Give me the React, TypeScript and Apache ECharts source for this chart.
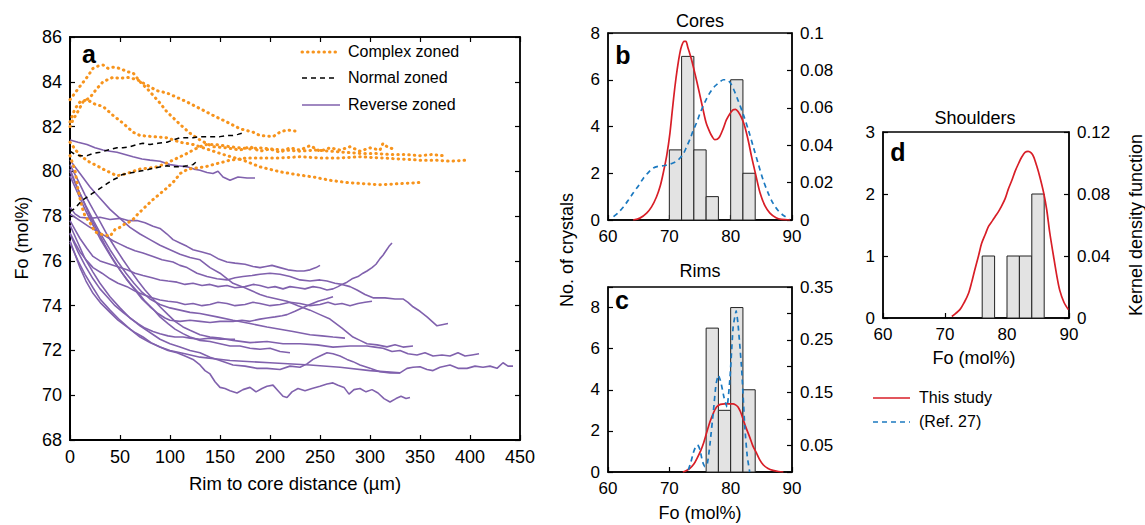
import React, { useEffect, useRef } from 'react';
import * as echarts from 'echarts';

const FONT = '"Liberation Sans", Arial, Helvetica, sans-serif';
const ORANGE = '#f7941d';
const PURPLE = '#8061ad';
const RED = '#d81e27';
const BLUE = '#1b79c0';

// ---------- Panel a : Fo profiles (distance µm, Fo mol%) ----------
const distMin = 0, distMax = 450, distStep = 50;
const foMin = 68, foMax = 86, foStep = 2;

const complex1 = [[0,83.2],[5,83.5],[10,83.8],[17,84.2],[23,84.6],[28,84.7],[33,84.75],[38,84.6],[43,84.65],[50,84.6],[57,84.45],[63,84.4],[70,84.0],[77,83.7],[83,83.4],[90,83.05],[97,82.65],[103,82.4],[110,82.1],[120,81.7],[130,81.4],[143,81.1],[157,81.05],[170,80.95],[180,81.1],[190,80.9],[200,81.0],[210,80.85],[220,81.05],[230,80.95],[240,81.15],[250,80.9],[260,81.05],[270,80.95],[280,81.1],[290,80.9],[300,81.05],[310,80.95],[313,81.25],[317,81.1],[323,81.0]];
const complex2 = [[0,82.0],[3,82.3],[7,82.6],[13,83.1],[20,83.3],[27,83.7],[33,84.0],[43,84.2],[50,84.15],[57,84.2],[67,84.1],[77,83.85],[87,83.6],[97,83.5],[107,83.3],[117,83.1],[130,82.8],[143,82.5],[157,82.2],[170,81.9],[183,81.75],[190,81.6],[203,81.55],[210,81.75],[217,81.85],[225,81.8]];
const complex3 = [[0,82.2],[5,82.8],[10,83.1],[17,83.2],[25,83.0],[33,82.9],[43,82.5],[53,82.15],[63,81.75],[70,81.6],[83,81.55],[97,81.5],[110,81.3],[123,81.2],[140,80.95],[157,80.7],[173,80.5],[190,80.2],[210,79.98],[227,79.85],[243,79.75],[260,79.6],[277,79.5],[293,79.45],[310,79.4],[330,79.45],[350,79.5]];
const complex4 = [[0,81.3],[5,81.0],[10,80.7],[15,80.55],[20,80.4],[27,80.25],[33,80.1],[40,79.95],[47,79.8],[52,79.85],[57,79.9],[63,80.0],[70,80.1],[80,80.15],[87,80.2],[93,80.3],[98,80.4],[103,80.5],[110,80.65],[117,80.8],[123,80.95],[130,81.1],[137,81.2],[145,81.2],[153,81.15],[160,81.1],[170,81.05],[180,81.0],[190,81.05],[200,81.0],[215,80.95],[230,80.9],[245,80.95],[260,80.9],[275,80.85],[290,80.8],[305,80.8],[320,80.75],[335,80.75],[350,80.7],[362,80.75],[373,80.7]];
const complex5 = [[0,80.7],[3,80.3],[5,80.05],[8,79.2],[12,78.4],[15,78.0],[20,77.7],[25,77.3],[30,77.2],[36,77.15],[40,77.1],[45,77.4],[50,77.5],[55,77.65],[62,77.8],[68,78.1],[75,78.4],[82,78.7],[90,79.0],[98,79.3],[105,79.6],[110,79.9],[118,80.1],[126,80.15],[135,80.2],[143,80.3],[152,80.4],[160,80.5],[170,80.55],[177,80.6],[190,80.6],[210,80.6],[230,80.65],[250,80.6],[270,80.6],[290,80.65],[310,80.6],[330,80.55],[350,80.5],[365,80.5],[380,80.45],[397,80.5]];

const normal1 = [[0,80.9],[5,80.75],[10,80.7],[17,80.7],[23,80.8],[30,80.85],[38,80.95],[47,81.05],[53,81.05],[60,81.1],[67,81.2],[73,81.25],[80,81.2],[88,81.25],[97,81.3],[103,81.4],[110,81.5],[117,81.5],[123,81.5],[130,81.55],[137,81.55],[143,81.55],[150,81.55],[157,81.6],[163,81.6],[168,81.65],[175,81.75]];
const normal2 = [[0,78.2],[5,78.35],[12,78.7],[17,78.85],[22,79.0],[27,79.15],[32,79.3],[37,79.45],[42,79.6],[47,79.7],[52,79.85],[57,79.9],[63,79.95],[69,80.0],[75,80.05],[80,80.1],[85,80.15],[91,80.2],[97,80.25],[103,80.2],[110,80.2],[117,80.25],[123,80.3],[127,80.45]];

const reverse1 = [[0,81.4],[8,81.3],[17,81.2],[25,81.05],[33,80.95],[40,80.9],[47,80.85],[55,80.75],[63,80.65],[72,80.55],[80,80.5],[90,80.45],[100,80.3],[108,80.25],[117,80.2],[124,80.1],[130,80.05],[137,79.95],[143,79.9],[148,80.0],[153,79.75],[160,79.6],[168,79.75],[177,79.7],[185,79.7]];
const reverse2 = [[0,78.4],[5,78.1],[10,77.95],[20,77.9],[30,77.95],[40,77.85],[50,77.9],[58,77.8],[67,77.8],[75,77.7],[83,77.55],[90,77.45],[97,77.2],[103,76.95],[110,76.8],[117,76.65],[123,76.5],[132,76.4],[140,76.3],[148,76.1],[157,75.95],[165,75.9],[175,75.85],[183,75.75],[190,75.7],[196,75.75],[202,75.8],[210,75.7],[218,75.6],[227,75.55],[234,75.55],[240,75.6],[246,75.7],[250,75.8]];
const reverse3 = [[0,78.1],[5,77.95],[10,77.8],[20,77.5],[30,77.25],[43,76.9],[50,76.75],[57,76.6],[65,76.45],[73,76.35],[83,76.2],[92,76.05],[103,75.95],[110,75.8],[117,75.7],[127,75.45],[137,75.3],[147,75.2],[157,75.15],[165,75.25],[173,75.3],[182,75.35],[190,75.4],[200,75.45],[210,75.4],[220,75.3],[230,75.15],[240,75.1],[250,75.15],[257,75.1],[265,75.0],[272,74.95],[280,74.85],[287,74.7],[295,74.5],[303,74.35],[315,74.35],[325,74.3],[333,74.3],[338,74.15],[343,73.95],[350,73.75],[357,73.5],[362,73.3],[367,73.1],[372,73.15],[378,73.2]];
const reverse4 = [[0,77.8],[5,77.4],[10,77.0],[17,76.55],[23,76.2],[30,76.0],[40,75.85],[50,75.7],[57,75.6],[65,75.45],[73,75.35],[82,75.25],[90,75.15],[98,75.1],[107,75.05],[115,74.95],[123,75.0],[132,74.9],[140,74.95],[148,74.85],[157,74.9],[165,74.8],[175,74.85],[183,74.95],[190,74.9],[198,74.8],[205,74.85],[213,74.75],[220,74.85],[228,74.8],[235,74.75],[243,74.85],[250,74.8],[257,74.7],[263,74.75],[268,74.85],[272,74.95],[277,75.05],[282,75.2],[288,75.3],[293,75.45],[297,75.55],[302,75.7],[306,75.85],[310,76.1],[313,76.25],[316,76.45],[319,76.65],[322,76.8]];
const reverse5 = [[0,77.25],[5,76.8],[10,76.4],[17,76.0],[23,75.7],[32,75.45],[40,75.2],[48,75.0],[57,74.85],[65,74.65],[73,74.5],[82,74.35],[90,74.25],[98,74.2],[107,74.15],[115,74.05],[123,74.1],[132,74.0],[140,74.05],[148,74.15],[157,74.1],[165,74.0],[175,74.05],[183,74.15],[190,74.1],[200,74.0],[210,74.05],[220,74.15],[230,74.1],[240,74.0],[250,74.05],[258,74.15],[265,74.05],[272,74.1],[280,74.0],[288,74.1],[295,74.15],[302,74.2]];
const reverse6 = [[0,80.5],[10,79.9],[20,79.3],[30,78.8],[40,78.3],[50,77.9],[60,77.5],[70,77.2],[80,76.95],[90,76.7],[100,76.5],[110,76.3],[120,76.15],[130,76.05],[140,75.7],[150,75.45],[163,75.0],[172,74.85],[180,74.7],[190,74.5],[197,74.4],[207,74.3],[217,74.2],[228,74.0],[240,73.8],[250,73.6],[260,73.4],[272,73.0],[283,72.6],[290,72.45],[297,72.3],[307,72.25],[317,72.16],[325,72.25],[333,72.15],[343,72.2]];
const reverse7 = [[0,80.3],[8,79.6],[15,78.95],[23,78.3],[30,77.75],[38,77.1],[45,76.6],[53,76.05],[60,75.6],[68,75.1],[75,74.7],[83,74.3],[90,73.95],[98,73.6],[105,73.3],[113,73.05],[120,72.9],[130,72.7],[140,72.6],[150,72.55],[163,72.45],[180,72.35],[197,72.4],[213,72.3],[230,72.3],[247,72.25],[263,72.15],[280,72.2],[297,72.2],[305,72.15],[313,72.1],[322,71.95],[330,72.0],[338,71.85],[347,71.8],[355,71.9],[363,71.75],[372,71.8],[380,71.75],[388,71.9],[395,71.75],[402,71.8],[409,71.85]];
const reverse8 = [[0,77.6],[8,76.8],[15,76.1],[23,75.5],[30,75.0],[40,74.4],[50,73.9],[60,73.45],[70,73.1],[80,72.8],[90,72.5],[100,72.3],[110,72.15],[120,72.0],[130,71.9],[140,71.7],[150,71.55],[163,71.35],[175,71.3],[187,71.2],[197,71.2],[210,71.15],[220,71.3],[230,71.25],[237,71.4],[243,71.6],[250,71.75],[257,71.9],[263,71.85],[270,71.75],[277,71.6],[283,71.5],[290,71.35],[300,71.2],[310,71.05],[320,71.0],[330,71.0],[337,71.2],[343,71.25],[350,71.27],[357,71.15],[363,71.1],[370,71.25],[380,71.35],[388,71.2],[397,71.2],[405,71.3],[413,71.25],[420,71.3],[427,71.2],[433,71.45],[438,71.3],[443,71.3]];
const reverse9 = [[0,76.9],[5,76.3],[10,75.7],[16,75.1],[23,74.55],[31,74.1],[40,73.7],[48,73.35],[57,73.05],[65,72.8],[73,72.6],[81,72.35],[90,72.15],[98,72.0],[107,71.9],[115,71.75],[123,71.6],[130,71.35],[135,71.1],[140,70.95],[145,70.6],[150,70.35],[155,70.3],[160,70.2],[167,70.1],[173,70.25],[180,70.35],[186,70.15],[192,70.3],[197,70.4],[203,70.45],[208,70.2],[213,69.95],[217,69.9],[222,70.15],[228,70.3],[235,70.2],[242,70.3],[250,70.4],[257,70.5],[263,70.55],[268,70.45],[274,70.35],[279,70.05],[284,70.25],[290,70.3],[296,70.15],[302,70.25],[308,70.1],[314,69.85],[320,69.7],[326,69.85],[331,69.95],[336,69.85],[340,69.9]];
const reverse10 = [[0,79.8],[8,79.0],[15,78.3],[23,77.6],[30,77.0],[38,76.4],[45,75.9],[53,75.4],[60,75.0],[68,74.6],[75,74.2],[83,73.85],[90,73.5],[98,73.2],[105,72.95],[113,72.75],[120,72.6],[130,72.45],[140,72.4],[150,72.3],[160,72.2],[170,72.2],[180,72.1],[190,72.05],[200,72.1],[210,71.95],[220,71.9]];
const reverse11 = [[0,77.2],[8,76.4],[15,75.8],[23,75.2],[30,74.75],[38,74.35],[45,74.0],[53,73.7],[60,73.45],[68,73.2],[75,73.0],[83,72.85],[90,72.75],[98,72.65],[105,72.6],[113,72.6],[120,72.55],[130,72.5],[140,72.55],[150,72.5],[158,72.5],[165,72.5]];
const reverse12 = [[0,76.8],[8,76.0],[15,75.4],[23,74.8],[30,74.3],[40,73.8],[50,73.35],[60,72.95],[70,72.6],[80,72.35],[90,72.15],[100,72.0],[115,71.85],[130,71.7],[160,71.55],[200,71.45],[240,71.35],[270,71.25],[300,71.1],[330,71.0]];
const reverse13 = [[0,80.1],[7,79.3],[14,78.6],[21,77.9],[28,77.3],[35,76.7],[42,76.15],[50,75.6],[57,75.15],[65,74.7],[72,74.3],[80,73.95],[88,73.65],[95,73.45],[100,73.35],[110,73.3],[120,73.35],[130,73.3],[140,73.25],[150,73.3],[163,73.3],[172,73.35],[180,73.3],[190,73.4],[197,73.45],[205,73.5],[212,73.55],[217,73.6],[225,73.75],[232,73.9],[240,74.05],[248,74.2],[256,74.3],[263,74.4]];
const reverse14 = [[0,80.0],[8,79.2],[16,78.45],[24,77.75],[32,77.1],[40,76.5],[48,75.95],[56,75.45],[64,75.0],[72,74.6],[80,74.3],[90,74.05],[100,73.9],[110,73.8],[120,73.7],[130,73.65],[147,73.5],[163,73.35],[180,73.2],[197,73.05],[210,72.95],[223,72.85],[240,72.7],[252,72.65],[263,72.6],[275,72.55]];

const complexZoned = [complex1, complex2, complex3, complex4, complex5];
const normalZoned = [normal1, normal2];
const reverseZoned = [reverse1, reverse2, reverse3, reverse4, reverse5, reverse6, reverse7, reverse8, reverse9, reverse10, reverse11, reverse12, reverse13, reverse14];

// ---------- Histograms (Fo mol%, bins of 2) ----------
const foHistMin = 60, foHistMax = 90, foHistStep = 10;
const BIN_WIDTH = 2;
const coreBinStarts = [70, 72, 74, 76, 80, 82];
const coreCounts = [3, 7, 3, 1, 6, 2];
const rimBinStarts = [76, 78, 80, 82];
const rimCounts = [7, 3, 8, 4];
const shoulderBinStarts = [76, 80, 82, 84];
const shoulderCounts = [1, 1, 1, 2];

// Kernel density curves [Fo, density]
const coresThisStudy = [[64.1,0],[65.2,0.001],[66.3,0.0037],[67.1,0.007],[67.9,0.0123],[68.5,0.018],[69.0,0.025],[69.6,0.035],[70.1,0.0465],[70.5,0.059],[70.9,0.071],[71.3,0.081],[71.7,0.089],[72.0,0.093],[72.4,0.0955],[72.7,0.0955],[73.0,0.0925],[73.6,0.086],[74.2,0.078],[74.9,0.068],[75.5,0.059],[76.0,0.052],[76.6,0.047],[77.0,0.0445],[77.4,0.043],[77.8,0.0432],[78.2,0.0445],[78.8,0.049],[79.3,0.0535],[79.9,0.057],[80.4,0.059],[80.8,0.0592],[81.2,0.058],[81.8,0.0545],[82.3,0.05],[82.9,0.042],[83.4,0.034],[84.1,0.024],[84.8,0.0144],[85.6,0.0075],[86.4,0.0037],[87.4,0.0012],[88.3,0.0003],[89.7,0]];
const coresRef27 = [[60.9,0.0018],[61.7,0.004],[62.5,0.007],[63.3,0.0105],[64.1,0.0144],[65.0,0.0185],[65.8,0.0225],[66.6,0.0255],[67.4,0.0278],[68.2,0.0287],[69.0,0.029],[69.8,0.0296],[70.6,0.0305],[71.2,0.0315],[71.7,0.033],[72.3,0.0355],[72.8,0.039],[73.4,0.0435],[73.9,0.048],[74.5,0.0525],[75.0,0.057],[75.8,0.063],[76.6,0.068],[77.4,0.0715],[78.3,0.074],[78.8,0.075],[79.3,0.075],[79.9,0.0735],[80.4,0.0705],[81.2,0.064],[82.0,0.057],[82.9,0.048],[83.7,0.039],[84.5,0.03],[85.3,0.0214],[86.1,0.0145],[86.9,0.009],[87.7,0.0052],[88.5,0.0027],[89.6,0.0005]];
const rimsThisStudy = [[72.2,0],[72.8,0.003],[73.4,0.0075],[74.0,0.015],[74.5,0.0255],[75.1,0.04],[75.6,0.0555],[76.1,0.075],[76.6,0.094],[77.2,0.112],[77.7,0.123],[78.3,0.128],[79.0,0.129],[79.7,0.129],[80.4,0.129],[80.8,0.127],[81.2,0.123],[81.6,0.114],[82.0,0.101],[82.5,0.084],[83.1,0.066],[83.6,0.05],[84.2,0.036],[84.7,0.024],[85.3,0.0137],[86.1,0.0065],[86.9,0.003],[87.8,0.001],[88.6,0]];
const rimsRef27 = [[73.1,0.004],[73.5,0.018],[73.9,0.036],[74.3,0.048],[74.6,0.051],[75.0,0.042],[75.4,0.02],[75.8,0.01],[76.2,0.016],[76.6,0.05],[77.2,0.117],[77.6,0.165],[78.0,0.183],[78.4,0.17],[78.9,0.142],[79.4,0.123],[79.9,0.18],[80.4,0.274],[80.9,0.305],[81.2,0.28],[81.8,0.193],[82.3,0.086],[82.7,0.03],[83.1,0]];
const shouldersThisStudy = [[71.1,0.001],[72.4,0.0054],[73.1,0.01],[73.8,0.016],[74.3,0.023],[74.8,0.031],[75.4,0.04],[75.9,0.048],[76.5,0.054],[77.0,0.059],[77.6,0.0625],[78.1,0.0655],[78.6,0.0685],[79.1,0.072],[79.7,0.077],[80.2,0.083],[80.8,0.089],[81.3,0.0946],[81.9,0.1],[82.4,0.104],[82.9,0.1068],[83.4,0.1075],[83.9,0.1065],[84.3,0.104],[84.8,0.098],[85.3,0.091],[85.9,0.081],[86.4,0.07],[86.9,0.055],[87.5,0.04],[88.0,0.028],[88.5,0.018],[89.2,0.01],[89.9,0.0054]];

function tickLabel(size: number, extra: any = {}) {
  return { color: '#000', fontSize: size, fontFamily: FONT, margin: 8, ...extra };
}
function valAxis(o: any) {
  return {
    type: 'value',
    splitLine: { show: false },
    axisLine: { show: true, onZero: false, lineStyle: { color: '#000', width: 1.5 } },
    axisTick: { show: true, inside: true, length: 5, lineStyle: { color: '#000', width: 1.2 } },
    axisLabel: tickLabel(17),
    ...o,
  };
}
const fmt2 = (v: number) => String(parseFloat(v.toFixed(2)));

function histSeries(starts: number[], counts: number[], xi: number, yi: number) {
  return {
    type: 'custom',
    xAxisIndex: xi,
    yAxisIndex: yi,
    silent: true,
    z: 1,
    data: starts.map((s, i) => [s, s + BIN_WIDTH, counts[i]]),
    encode: { x: [0, 1], y: 2 },
    renderItem: (_p: any, api: any) => {
      const p0 = api.coord([api.value(0), 0]);
      const p1 = api.coord([api.value(1), api.value(2)]);
      return {
        type: 'rect',
        shape: { x: p0[0], y: p1[1], width: p1[0] - p0[0], height: p0[1] - p1[1] },
        style: { fill: '#e3e3e3', stroke: '#222', lineWidth: 1 },
      };
    },
  };
}
function kdeSeries(data: number[][], xi: number, yi: number, color: string, dashed: boolean, smooth = 0.3) {
  return {
    type: 'line', xAxisIndex: xi, yAxisIndex: yi, data, showSymbol: false, symbol: 'none',
    smooth, silent: true, z: dashed ? 4 : 3,
    lineStyle: { color, width: 1.7, type: dashed ? [5, 4] : 'solid' },
  };
}
function profileSeries(data: number[][], kind: string) {
  const ls: any =
    kind === 'complex' ? { color: ORANGE, width: 3, type: [0.5, 5], cap: 'round' }
    : kind === 'normal' ? { color: '#000', width: 1.5, type: [5, 4] }
    : { color: PURPLE, width: 1.6 };
  return {
    type: 'line', xAxisIndex: 0, yAxisIndex: 0, data, showSymbol: false, symbol: 'none',
    silent: true, z: kind === 'reverse' ? 2 : kind === 'complex' ? 3 : 4, lineStyle: ls,
  };
}

function txt(text: string, x: number, y: number, size: number, extra: any = {}, rot = 0) {
  return {
    type: 'text', x, y, rotation: rot, z: 100,
    style: {
      text, fill: '#000', fontSize: size, fontFamily: FONT,
      align: 'center', verticalAlign: 'middle', textAlign: 'center', textVerticalAlign: 'middle',
      ...extra,
    },
  };
}
function seg(x1: number, y1: number, x2: number, y2: number, style: any) {
  return { type: 'line', z: 100, shape: { x1, y1, x2, y2 }, style };
}

export default function App() {
  const ref = useRef<HTMLDivElement>(null);
  useEffect(() => {
    const chart = echarts.init(ref.current as HTMLDivElement, null, { renderer: 'svg' });
    const gridBase = { show: true, borderColor: '#000', borderWidth: 1.3, backgroundColor: 'transparent' };
    const option: any = {
      animation: false,
      grid: [
        { ...gridBase, left: 70, top: 37, width: 450, height: 403 },
        { ...gridBase, left: 608, top: 33, width: 184, height: 187 },
        { ...gridBase, left: 608, top: 287, width: 184, height: 185 },
        { ...gridBase, left: 883, top: 132, width: 186, height: 186 },
      ],
      xAxis: [
        valAxis({ gridIndex: 0, min: distMin, max: distMax, interval: distStep, axisLabel: tickLabel(18), axisLine: { show: true, onZero: false, lineStyle: { color: '#000', width: 2 } } }),
        valAxis({ gridIndex: 0, position: 'top', min: distMin, max: distMax, interval: distStep, axisLabel: { show: false } }),
        valAxis({ gridIndex: 1, min: foHistMin, max: foHistMax, interval: foHistStep }),
        valAxis({ gridIndex: 2, min: foHistMin, max: foHistMax, interval: foHistStep }),
        valAxis({ gridIndex: 3, min: foHistMin, max: foHistMax, interval: foHistStep }),
      ],
      yAxis: [
        valAxis({ gridIndex: 0, min: foMin, max: foMax, interval: foStep, axisLabel: tickLabel(18), axisLine: { show: true, onZero: false, lineStyle: { color: '#000', width: 2 } } }),
        valAxis({ gridIndex: 0, position: 'right', min: foMin, max: foMax, interval: foStep, axisLabel: { show: false } }),
        valAxis({ gridIndex: 1, min: 0, max: 8, interval: 2 }),
        valAxis({ gridIndex: 1, position: 'right', min: 0, max: 0.1, interval: 0.02, axisLabel: tickLabel(17, { formatter: fmt2 }) }),
        valAxis({ gridIndex: 2, min: 0, max: 9, interval: 2, axisLabel: tickLabel(17, { formatter: (v: number) => (v > 8.5 ? '' : String(v)) }) }),
        valAxis({ gridIndex: 2, position: 'right', min: 0, max: 0.35, interval: 0.05, axisLabel: tickLabel(17, { formatter: (v: number) => (Math.round(v * 100) % 10 === 5 ? v.toFixed(2) : '') }) }),
        valAxis({ gridIndex: 3, min: 0, max: 3, interval: 1 }),
        valAxis({ gridIndex: 3, position: 'right', min: 0, max: 0.12, interval: 0.04, axisLabel: tickLabel(17, { formatter: fmt2 }) }),
      ],
      series: [
        ...reverseZoned.map((d) => profileSeries(d, 'reverse')),
        ...complexZoned.map((d) => profileSeries(d, 'complex')),
        ...normalZoned.map((d) => profileSeries(d, 'normal')),
        histSeries(coreBinStarts, coreCounts, 2, 2),
        kdeSeries(coresThisStudy, 2, 3, RED, false),
        kdeSeries(coresRef27, 2, 3, BLUE, true),
        histSeries(rimBinStarts, rimCounts, 3, 4),
        kdeSeries(rimsThisStudy, 3, 5, RED, false),
        kdeSeries(rimsRef27, 3, 5, BLUE, true, 0.15),
        histSeries(shoulderBinStarts, shoulderCounts, 4, 6),
        kdeSeries(shouldersThisStudy, 4, 7, RED, false),
      ],
      graphic: [
        txt('Fo (mol%)', 22, 238, 18, {}, Math.PI / 2),
        txt('Rim to core distance (µm)', 295, 483, 18.5),
        txt('a', 89, 54, 25, { fontWeight: 'bold' }),
        seg(302, 52, 338, 52, { stroke: ORANGE, lineWidth: 3, lineDash: [0.5, 5], lineCap: 'round' }),
        seg(302, 78, 338, 78, { stroke: '#000', lineWidth: 1.5, lineDash: [5, 4] }),
        seg(302, 105, 340, 105, { stroke: PURPLE, lineWidth: 1.6 }),
        txt('Complex zoned', 348, 51, 16, { align: 'left', textAlign: 'left' }),
        txt('Normal zoned', 348, 77, 16, { align: 'left', textAlign: 'left' }),
        txt('Reverse zoned', 348, 104, 16, { align: 'left', textAlign: 'left' }),
        txt('Cores', 700, 21, 18),
        txt('Rims', 700, 271, 18),
        txt('Shoulders', 975, 118, 18),
        txt('b', 623, 55, 25, { fontWeight: 'bold' }),
        txt('c', 622, 300, 25, { fontWeight: 'bold' }),
        txt('d', 898, 152, 25, { fontWeight: 'bold' }),
        txt('No. of crystals', 567, 250, 18, {}, Math.PI / 2),
        txt('Kernel density function', 1136, 225, 18, {}, Math.PI / 2),
        txt('Fo (mol%)', 700, 513, 18),
        txt('Fo (mol%)', 974, 358, 18),
        seg(873, 398, 910, 398, { stroke: RED, lineWidth: 1.7 }),
        seg(873, 422, 910, 422, { stroke: BLUE, lineWidth: 1.7, lineDash: [5, 4] }),
        txt('This study', 919, 397, 16, { align: 'left', textAlign: 'left' }),
        txt('(Ref. 27)', 919, 421, 16, { align: 'left', textAlign: 'left' }),
      ],
    };
    chart.setOption(option);
    return () => chart.dispose();
  }, []);
  return <div ref={ref} style={{ position: 'absolute', left: 0, top: 0, width: 1145, height: 525 }} />;
}
